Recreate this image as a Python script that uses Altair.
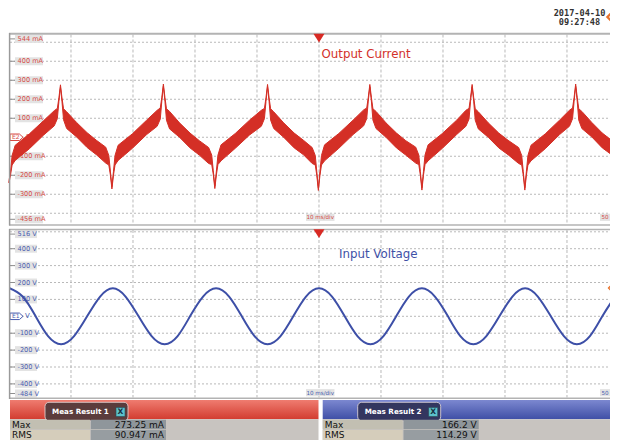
import altair as alt
import pandas as pd

# ---------------- values ----------------
# Output current envelope (upper / lower edge of the noisy trace), mA vs ms
cur_t = [-50.0, -49.75, -49.5, -49.0, -46.7, -44.4,
         -42.7, -42.2, -41.95, -41.7, -41.45, -41.2, -40.7, -39.1, -37.4, -35.9,
         -34.4, -33.9, -33.65, -33.4, -33.15, -32.9, -32.4, -30.1, -27.8,
         -26.1, -25.6, -25.35, -25.1, -24.85, -24.6, -24.1, -22.5, -20.8, -19.3,
         -17.8, -17.3, -17.05, -16.8, -16.55, -16.3, -15.8, -13.5, -11.2,
         -9.3, -8.8, -8.55, -8.3, -8.05, -7.8, -7.3, -5.7, -4.0, -2.5,
         -1.1, -0.6, -0.35, -0.1, 0.15, 0.4, 0.9, 3.2, 5.5,
         7.2, 7.7, 7.95, 8.2, 8.45, 8.7, 9.2, 10.8, 12.5, 14.0,
         15.6, 16.1, 16.35, 16.6, 16.85, 17.1, 17.6, 19.9, 22.2,
         23.7, 24.2, 24.45, 24.7, 24.95, 25.2, 25.7, 27.3, 29.0, 30.5,
         32.2, 32.7, 32.95, 33.2, 33.45, 33.7, 34.2, 36.5, 38.8,
         40.4, 40.9, 41.15, 41.4, 41.65, 41.9, 42.4, 44.0, 45.7, 47.2, 48.39]
cur_hi = [-228, -178, -96, -42, 18, 88,
          140, 152, 208, 276, 206, 150, 134, 78, 24, -16,
          -52, -96, -178, -260, -180, -96, -42, 18, 90,
          142, 154, 210, 280, 210, 150, 136, 76, 22, -18,
          -54, -94, -176, -258, -178, -94, -40, 20, 90,
          142, 152, 208, 278, 208, 150, 134, 76, 22, -16,
          -54, -96, -182, -268, -182, -96, -40, 20, 90,
          144, 154, 210, 278, 210, 150, 136, 76, 22, -18,
          -52, -94, -180, -266, -180, -94, -40, 20, 90,
          142, 152, 210, 278, 210, 150, 134, 76, 22, -16,
          -54, -96, -180, -266, -180, -96, -42, 18, 90,
          142, 154, 210, 280, 210, 150, 136, 78, 22, -16, -40]
cur_lo = [-240, -198, -146, -122, -60, 12,
          60, 98, 188, 264, 186, 92, 46, 2, -54, -92,
          -136, -146, -198, -272, -200, -146, -122, -58, 14,
          58, 96, 190, 268, 190, 90, 44, 0, -56, -94,
          -138, -144, -196, -270, -198, -144, -124, -58, 12,
          58, 98, 188, 266, 188, 90, 46, 0, -56, -92,
          -138, -146, -202, -280, -202, -146, -124, -58, 14,
          60, 98, 190, 266, 190, 90, 46, 0, -56, -94,
          -136, -144, -200, -278, -200, -144, -124, -58, 14,
          58, 96, 190, 266, 190, 90, 44, 0, -56, -92,
          -138, -146, -200, -278, -200, -146, -124, -60, 14,
          58, 98, 190, 268, 190, 90, 46, 2, -56, -92, -118]

# Input voltage, V vs ms
volt_t = [-49.9, -47.8, -45.7, -43.7, -41.6, -39.5, -37.4, -35.3,
          -33.25, -31.2, -29.1, -27.0, -24.9, -22.8, -20.8, -18.7,
          -16.6, -14.5, -12.45, -10.4, -8.3, -6.2, -4.15, -2.1,
          0.0, 2.1, 4.15, 6.2, 8.3, 10.4, 12.45, 14.5,
          16.6, 18.7, 20.8, 22.8, 24.9, 27.0, 29.1, 31.2,
          33.25, 35.3, 37.4, 39.5, 41.6, 43.7, 45.7, 47.8, 48.39]
volt_v = [166, 117, 0, -117, -165, -117, 0, 117,
          166, 117, 0, -117, -165, -117, 0, 117,
          166, 117, 0, -117, -165, -117, 0, 117,
          166, 117, 0, -117, -165, -117, 0, 117,
          166, 117, 0, -117, -165, -117, 0, 117,
          166, 117, 0, -117, -165, -117, 0, 117, 136]

grid_vals = [-400, -300, -200, -100, 0, 100, 200, 300, 400, 500]
time_grid = [-40, -30, -20, -10, 0, 10, 20, 30, 40]
cur_tick_vals = [544, 400, 300, 200, 100, -100, -200, -300, -456]
cur_tick_text = ["544 mA", "400 mA", "300 mA", "200 mA", "100 mA",
                 "-100 mA", "-200 mA", "-300 mA", "-456 mA"]
volt_tick_vals = [516, 400, 300, 200, 100, -100, -200, -300, -400, -484]
volt_tick_text = ["516 V", "400 V", "300 V", "200 V", "100 V",
                  "-100 V", "-200 V", "-300 V", "-400 V", "-484 V"]
meas_rows = ["Max", "RMS"]
meas1_vals = ["273.25 mA", "90.947 mA"]
meas2_vals = ["166.2 V", "114.29 V"]
trigger_t = [0]

# ---------------- layout helpers (page px -> chart px) ----------------
def px(v):
    return v - 8

ONE = pd.DataFrame({"k": [0]})
RED = "#d42f26"
BLUE = "#3d4fa7"
LRED = "#d64a45"
LBLUE = "#4a5db0"
GRID = "#b9b9b9"

XS = alt.Scale(domain=[-50, 48.39], range=[px(9), px(619)], nice=False, zero=False)
YI = alt.Scale(domain=[-456, 544], range=[px(223.9), px(33.9)], nice=False, zero=False)
YV = alt.Scale(domain=[-484, 516], range=[px(398.1), px(229.1)], nice=False, zero=False)


def box(x0, x1, y0, y1, color, **kw):
    return alt.Chart(ONE).mark_rect(color=color, **kw).encode(
        x=alt.value(px(x0)), x2=alt.value(px(x1)),
        y=alt.value(px(y0)), y2=alt.value(px(y1)))


def hline(x0, x1, y, color, w=1.0):
    return alt.Chart(ONE).mark_rule(color=color, strokeWidth=w).encode(
        x=alt.value(px(x0)), x2=alt.value(px(x1)), y=alt.value(px(y)))


def vline(x, y0, y1, color, w=1.0):
    return alt.Chart(ONE).mark_rule(color=color, strokeWidth=w).encode(
        x=alt.value(px(x)), y=alt.value(px(y0)), y2=alt.value(px(y1)))


def txt(x, y, s, size, color, align="left", weight="normal", font="DejaVu Sans"):
    return alt.Chart(ONE).mark_text(text=s, align=align, baseline="middle",
                                    fontSize=size, color=color, fontWeight=weight,
                                    font=font).encode(
        x=alt.value(px(x)), y=alt.value(px(y)))


layers = []

# ---------------- measurement panel (bottom) ----------------
red_grad = alt.Gradient(gradient="linear",
                        stops=[alt.GradientStop(color="#ef7c70", offset=0),
                               alt.GradientStop(color="#d23c30", offset=1)],
                        x1=0, x2=0, y1=0, y2=1)
blue_grad = alt.Gradient(gradient="linear",
                         stops=[alt.GradientStop(color="#7c88d0", offset=0),
                                alt.GradientStop(color="#3f4fa6", offset=1)],
                         x1=0, x2=0, y1=0, y2=1)

for (x0, x1, grad, tabc, title, vals) in [
        (10, 318.5, red_grad, "#5b3c3c", "Meas Result 1", meas1_vals),
        (322.7, 640, blue_grad, "#33365f", "Meas Result 2", meas2_vals)]:
    layers.append(box(x0, x1, 400, 419.3, grad))
    layers.append(box(x0, x1, 419.3, 460, "#c8c4c0"))
    layers.append(box(x0 + 35, x0 + 118, 402.3, 420.8, tabc, cornerRadius=4,
                      stroke="#e8dede", strokeWidth=0.8))
    layers.append(txt(x0 + 42, 412.2, title, 7.2, "white", weight="bold"))
    layers.append(box(x0 + 106, x0 + 115, 407.5, 416.5, "#5cc2cb",
                      stroke="#2a4a55", strokeWidth=0.6))
    layers.append(txt(x0 + 110.5, 412.1, "X", 7.5, "#163040", align="center", weight="bold"))
    # table cells
    layers.append(box(x0, x0 + 80, 419.8, 429.2, "#c2bfb2"))
    layers.append(box(x0, x0 + 80, 430.0, 441, "#d5cdbb"))
    layers.append(box(x0 + 80.8, x0 + 156, 419.8, 429.2, "#8f969b"))
    layers.append(box(x0 + 80.8, x0 + 156, 430.0, 441, "#979da1"))
    for i, (lab, val) in enumerate(zip(meas_rows, vals)):
        yy = 424.5 + i * 10.2
        layers.append(txt(x0 + 2, yy, lab, 9.0, "#111111"))
        layers.append(txt(x0 + 154, yy, val, 9.0, "#111111", align="right"))

# ---------------- grid ----------------
gdf = pd.DataFrame({"v": grid_vals})
tdf = pd.DataFrame({"t": time_grid})
for ys, (y0, y1) in [(YI, (34.5, 224.5)), (YV, (230, 397.5))]:
    layers.append(alt.Chart(gdf).mark_rule(color=GRID, strokeDash=[2, 2], strokeWidth=1).encode(
        y=alt.Y("v:Q", scale=ys, axis=None),
        x=alt.value(px(10)), x2=alt.value(px(620))))
    layers.append(alt.Chart(tdf).mark_rule(color=GRID, strokeDash=[3, 2], strokeWidth=1).encode(
        x=alt.X("t:Q", scale=XS, axis=None),
        y=alt.value(px(y0)), y2=alt.value(px(y1))))

# ---------------- tick labels ----------------
def tick_layers(vals, texts, ys, color, bx1):
    out = []
    n = len(vals)
    groups = [(vals[1:n - 1], texts[1:n - 1], 0),
              ([vals[0]], [texts[0]], 5),
              ([vals[-1]], [texts[-1]], -4.6)]
    for vv, tt, off in groups:
        d = pd.DataFrame({"v": vv, "s": tt})
        out.append(alt.Chart(d).mark_rule(color="#e3e3e3", strokeWidth=8, yOffset=off).encode(
            y=alt.Y("v:Q", scale=ys, axis=None),
            x=alt.value(px(15)), x2=alt.value(px(bx1))))
        out.append(alt.Chart(d).mark_rule(color="#8e8e8e", strokeWidth=1, yOffset=off).encode(
            y=alt.Y("v:Q", scale=ys, axis=None),
            x=alt.value(px(10)), x2=alt.value(px(15))))
        out.append(alt.Chart(d).mark_text(align="left", baseline="middle", fontSize=6.6,
                                          color=color, font="DejaVu Sans", yOffset=off).encode(
            y=alt.Y("v:Q", scale=ys, axis=None),
            x=alt.value(px(17.5)), text="s:N"))
    return out

layers += tick_layers(cur_tick_vals, cur_tick_text, YI, LRED, 43)
layers += tick_layers(volt_tick_vals, volt_tick_text, YV, LBLUE, 37)

# channel tags at 0
TAG = "M-1,-0.5L0.45,-0.5L1,0L0.45,0.5L-1,0.5Z"
zdf = pd.DataFrame({"v": [0]})
for ys, col, tag, unit in [(YI, LRED, "E2", "A"), (YV, LBLUE, "E1", "V")]:
    layers.append(alt.Chart(zdf).mark_point(shape=TAG, filled=True, fill="white",
                                            stroke=col, strokeWidth=1, size=169, opacity=1).encode(
        y=alt.Y("v:Q", scale=ys, axis=None), x=alt.value(px(16.5))))
    layers.append(alt.Chart(zdf).mark_text(text=tag, fontSize=6, color=col, align="center",
                                           baseline="middle", font="DejaVu Sans").encode(
        y=alt.Y("v:Q", scale=ys, axis=None), x=alt.value(px(15.8))))
    layers.append(alt.Chart(zdf).mark_text(text=unit, fontSize=7, color=col, align="left",
                                           baseline="middle", font="DejaVu Sans").encode(
        y=alt.Y("v:Q", scale=ys, axis=None), x=alt.value(px(25))))

# ---------------- traces ----------------
cdf = pd.DataFrame({"t": cur_t, "hi": cur_hi, "lo": cur_lo})
layers.append(alt.Chart(cdf).mark_area(color=RED, stroke=RED, strokeWidth=1, opacity=1).encode(
    x=alt.X("t:Q", scale=XS, axis=None),
    y=alt.Y("hi:Q", scale=YI, axis=None),
    y2="lo:Q"))
vdf = pd.DataFrame({"t": volt_t, "v": volt_v})
layers.append(alt.Chart(vdf).mark_line(color=BLUE, strokeWidth=2, interpolate="natural").encode(
    x=alt.X("t:Q", scale=XS, axis=None),
    y=alt.Y("v:Q", scale=YV, axis=None)))

# ---------------- frames ----------------
FR = "#b3b3b3"
layers.append(hline(9, 630, 33.8, FR, 2))
layers.append(hline(9, 630, 225, FR, 1.5))
layers.append(hline(9, 630, 229.5, FR, 1.5))
layers.append(hline(9, 630, 398.2, FR, 1.5))
layers.append(vline(9.6, 33, 225.5, "#9a9a9a", 1.5))
layers.append(vline(9.6, 229, 399, "#9a9a9a", 1.5))

# time-base boxes
for yy, col in [(217.3, LRED), (392.7, LBLUE)]:
    layers.append(box(306, 334.5, yy - 3.6, yy + 3.6, "#e3e3e3"))
    layers.append(txt(320.2, yy, "10 ms/div", 5.6, col, align="center"))
    layers.append(box(600, 620, yy - 3.6, yy + 3.6, "#e3e3e3"))
    layers.append(txt(601.5, yy, "50", 5.6, col))

# trigger markers
TRI = "M-1,-0.8L1,-0.8L0,0.8Z"
trdf = pd.DataFrame({"t": trigger_t})
for yy in [38.2, 233.7]:
    layers.append(alt.Chart(trdf).mark_point(shape=TRI, filled=True, color="#d82a24",
                                             size=121, opacity=1).encode(
        x=alt.X("t:Q", scale=XS, axis=None), y=alt.value(px(yy))))

# titles
layers.append(txt(321.5, 53.5, "Output Current", 11.8, "#d3302a"))
layers.append(txt(339, 253.5, "Input Voltage", 11.8, "#3e50a6"))

# timestamp + markers
layers.append(txt(579.5, 12.8, "2017-04-10", 8.6, "#333333", align="center",
                  weight="bold", font="DejaVu Sans Mono"))
layers.append(txt(579.5, 21.6, "09:27:48", 8.6, "#333333", align="center",
                  weight="bold", font="DejaVu Sans Mono"))
layers.append(alt.Chart(ONE).mark_point(shape="diamond", filled=False, color="#e8732c",
                                        strokeWidth=2.2, size=300, opacity=1).encode(
    x=alt.value(px(616)), y=alt.value(px(17))))
layers.append(alt.Chart(ONE).mark_point(shape="diamond", filled=False, color="#e8732c",
                                        strokeWidth=1.3, size=100, opacity=1).encode(
    x=alt.value(px(613.5)), y=alt.value(px(288))))

chart = alt.layer(*layers).resolve_scale(x="independent", y="independent").properties(
    width=602, height=432, padding=0,
    autosize=alt.AutoSizeParams(type="none"),
    background="white",
).configure_view(stroke=None)

chart.save("out.html", embed_options={"renderer": "svg", "actions": False})
